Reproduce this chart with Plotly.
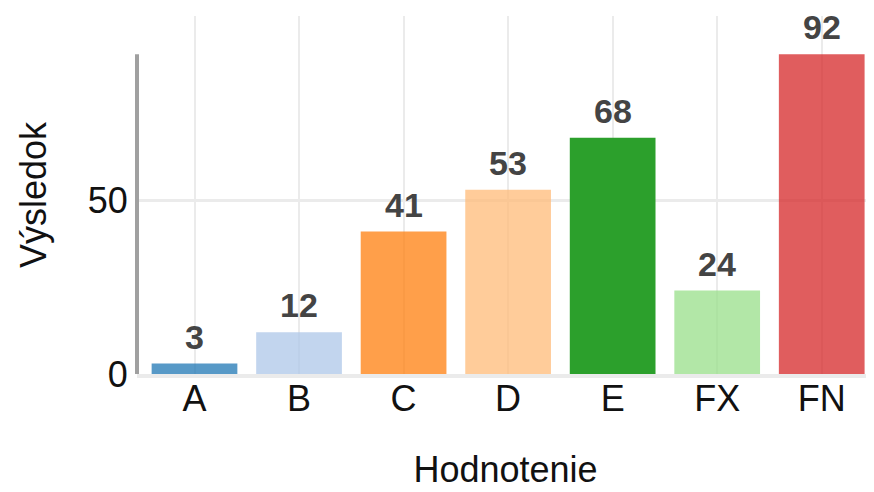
import plotly.graph_objects as go

grades = ["A", "B", "C", "D", "E", "FX", "FN"]
counts = [3, 12, 41, 53, 68, 24, 92]
y_ticks = [0, 50]

bar_colors = [
    "rgba(31,119,180,0.75)",
    "rgba(174,199,232,0.75)",
    "rgba(255,127,14,0.75)",
    "rgba(255,187,120,0.75)",
    "rgb(44,160,44)",
    "rgba(152,223,138,0.75)",
    "rgba(214,39,40,0.75)",
]

font_family = "Liberation Sans, Arial, sans-serif"
grid = "#ebebeb"

fig = go.Figure()

fig.add_trace(go.Bar(
    x=grades,
    y=counts,
    marker=dict(color=bar_colors, line=dict(width=0)),
    showlegend=False,
))

# value labels above the bars
for g, v in zip(grades, counts):
    fig.add_annotation(x=g, y=v, text="<b>%d</b>" % v, showarrow=False,
                       yanchor="bottom", yshift=6,
                       font=dict(family=font_family, size=34, color="#444444"))

# left axis line only up to the highest bar
fig.add_shape(type="line", xref="paper", yref="y", x0=0, x1=0, y0=0, y1=max(counts),
              line=dict(color="#a0a0a0", width=4), layer="above")

fig.update_layout(
    width=874, height=492,
    margin=dict(l=129, r=8, t=8, b=126),
    plot_bgcolor="white", paper_bgcolor="white",
    bargap=0.18,
    font=dict(family=font_family, size=36, color="#111111"),
)

fig.update_xaxes(
    range=[-0.55, 6.5], automargin=False,
    showgrid=True, gridcolor=grid, gridwidth=2,
    showline=True, linecolor=grid, linewidth=4,
    ticks="", ticklabelstandoff=-10,
    tickfont=dict(size=36),
    title=dict(text="Hodnotenie", standoff=40, font=dict(size=36)),
)
fig.update_yaxes(
    range=[0, 103], tickvals=y_ticks, automargin=False,
    showgrid=True, gridcolor=grid, gridwidth=3,
    zeroline=False, showline=False,
    ticks="outside", ticklen=1, tickcolor="rgba(0,0,0,0)",
    tickfont=dict(size=36),
    title=dict(text="Výsledok", standoff=30, font=dict(size=36)),
)

fig.write_html("out.html")
